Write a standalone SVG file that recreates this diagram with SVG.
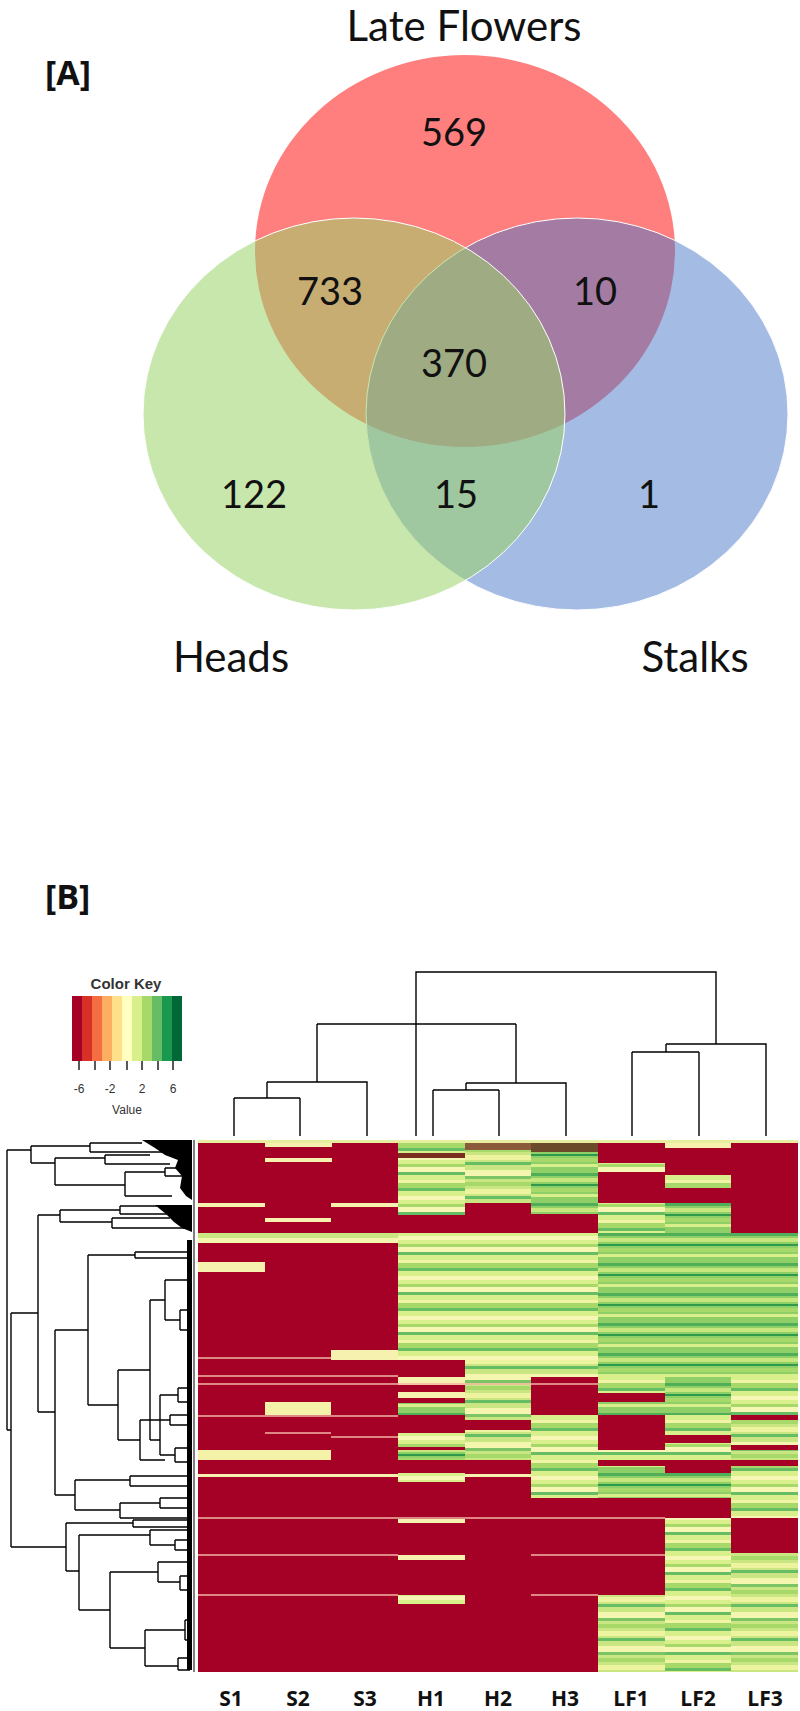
<svg xmlns="http://www.w3.org/2000/svg" width="800" height="1711" viewBox="0 0 800 1711">
<style>
.v{font-family:Lato,"Open Sans",sans-serif;fill:#111}
.num{font-size:38px;text-anchor:middle}
.lab{font-size:42px;text-anchor:middle}
.pl{font-family:"Open Sans",sans-serif;font-weight:bold;font-size:34px;fill:#111}
.col{font-family:"Open Sans",sans-serif;font-weight:bold;font-size:21px;text-anchor:middle;fill:#111}
.k{font-family:"Liberation Sans",Arial,sans-serif;fill:#333;text-anchor:middle}
.t{fill:none;stroke:#000;stroke-width:1.4}
.pk{stroke:#f2b4a4;stroke-width:1.3}
</style>
<defs>
<pattern id="gy" patternUnits="userSpaceOnUse" width="800" height="40">
<rect width="800" height="40" fill="#d9ef8b"/>
<rect y="4" width="800" height="3" fill="#a6d96a"/>
<rect y="7" width="800" height="5" fill="#f7f7b5"/>
<rect y="12" width="800" height="3" fill="#66bd63"/>
<rect y="20" width="800" height="3" fill="#f1f4a6"/>
<rect y="23" width="800" height="5" fill="#a6d96a"/>
<rect y="28" width="800" height="3" fill="#66bd63"/>
<rect y="36" width="800" height="4" fill="#f7f7b5"/>
</pattern>
<pattern id="gy2" patternUnits="userSpaceOnUse" width="800" height="34" patternTransform="translate(0,11)">
<rect width="800" height="34" fill="#c9e682"/>
<rect y="3" width="800" height="6" fill="#f4f6b0"/>
<rect y="9" width="800" height="3" fill="#7cc466"/>
<rect y="15" width="800" height="4" fill="#a6d96a"/>
<rect y="22" width="800" height="5" fill="#eef3a0"/>
<rect y="29" width="800" height="3" fill="#66bd63"/>
</pattern>
<pattern id="gg" patternUnits="userSpaceOnUse" width="800" height="30">
<rect width="800" height="30" fill="#8fcf68"/>
<rect y="3" width="800" height="3" fill="#4fae57"/>
<rect y="8" width="800" height="4" fill="#c8e67e"/>
<rect y="14" width="800" height="2" fill="#2f9a4c"/>
<rect y="18" width="800" height="4" fill="#a6d96a"/>
<rect y="24" width="800" height="3" fill="#d9ef8b"/>
</pattern>
</defs>
<rect width="800" height="1711" fill="#fff"/>

<g id="venn">
<ellipse cx="465" cy="251" rx="210" ry="196" fill="#ff7f7f"/>
<ellipse cx="577" cy="414" rx="211" ry="196" fill="#4a78c8" fill-opacity="0.5" stroke="#fff" stroke-width="1"/>
<ellipse cx="354" cy="414" rx="211" ry="196" fill="#9bd36a" fill-opacity="0.55" stroke="#fff" stroke-width="1"/>
<text class="v lab" x="464" y="41">Late Flowers</text>
<text class="pl" x="45" y="85">[A]</text>
<text class="v num" x="454" y="146">569</text>
<text class="v num" x="330" y="305">733</text>
<text class="v num" x="595" y="305">10</text>
<text class="v num" x="454" y="377">370</text>
<text class="v num" x="254" y="508">122</text>
<text class="v num" x="456" y="508">15</text>
<text class="v num" x="649" y="508">1</text>
<text class="v lab" x="231" y="672">Heads</text>
<text class="v lab" x="695" y="672">Stalks</text>
</g>

<text class="pl" x="45" y="909">[B]</text>

<g id="colorkey">
<text class="k" x="126" y="989" font-size="15" font-weight="bold" fill="#222">Color Key</text>
<rect x="72" y="996" width="10" height="65" fill="#a50026"/>
<rect x="82" y="996" width="10" height="65" fill="#d73027"/>
<rect x="92" y="996" width="10" height="65" fill="#f46d43"/>
<rect x="102" y="996" width="10" height="65" fill="#fdae61"/>
<rect x="112" y="996" width="10" height="65" fill="#fee08b"/>
<rect x="122" y="996" width="10" height="65" fill="#ffffbf"/>
<rect x="132" y="996" width="10" height="65" fill="#d9ef8b"/>
<rect x="142" y="996" width="10" height="65" fill="#a6d96a"/>
<rect x="152" y="996" width="10" height="65" fill="#66bd63"/>
<rect x="162" y="996" width="10" height="65" fill="#1a9850"/>
<rect x="172" y="996" width="10" height="65" fill="#006837"/>
<path d="M79 1061v9M95 1061v9M110 1061v9M127 1061v9M142 1061v9M158 1061v9M173 1061v9" stroke="#222" stroke-width="1.5"/>
<text class="k" x="79" y="1093" font-size="12">-6</text>
<text class="k" x="110" y="1093" font-size="12">-2</text>
<text class="k" x="142" y="1093" font-size="12">2</text>
<text class="k" x="173" y="1093" font-size="12">6</text>
<text class="k" x="127" y="1114" font-size="12">Value</text>
</g>

<g id="coldendro" class="t">
<path d="M416 1136V972H716V1044"/>
<path d="M317 1024H516M317 1024V1082M516 1024V1083"/>
<path d="M267 1082H367V1136M267 1082V1098M234 1098H300M234 1098V1136M300 1098V1136"/>
<path d="M466 1083H566V1136M466 1083V1090M433 1090H499M433 1090V1136M499 1090V1136"/>
<path d="M666 1044H766V1136M666 1044V1052M632 1052H699M632 1052V1136M699 1052V1136"/>
</g>

<g id="heatmap">
<rect x="198" y="1140" width="600" height="532" fill="#a50026"/>
<rect x="198" y="1140" width="600" height="3" fill="#e8eea0"/>
<rect x="265" y="1143" width="67" height="4" fill="#f7f1b0"/>
<rect x="265" y="1158" width="67" height="4" fill="#f7f1b0"/>
<rect x="398" y="1143" width="67" height="60" fill="url(#gy)"/>
<rect x="398" y="1153" width="67" height="5" fill="#7a2e1e"/>
<rect x="465" y="1143" width="66" height="7" fill="#8b5a3a"/>
<rect x="465" y="1150" width="66" height="53" fill="url(#gy2)"/>
<rect x="531" y="1143" width="67" height="9" fill="#6b4a2a"/>
<rect x="531" y="1152" width="67" height="51" fill="url(#gg)"/>
<rect x="665" y="1143" width="66" height="5" fill="#f7f1b0"/>
<rect x="665" y="1175" width="66" height="13" fill="url(#gy)"/>
<rect x="598" y="1163" width="67" height="9" fill="url(#gy)"/>
<rect x="198" y="1203" width="67" height="4" fill="#f7f1b0"/>
<rect x="331" y="1203" width="67" height="4" fill="#f7f1b0"/>
<rect x="398" y="1203" width="67" height="12" fill="url(#gy)"/>
<rect x="531" y="1203" width="67" height="11" fill="url(#gg)"/>
<rect x="598" y="1203" width="67" height="30" fill="url(#gy)"/>
<rect x="665" y="1203" width="66" height="30" fill="url(#gg)"/>
<rect x="265" y="1218" width="66" height="4" fill="#f7f1b0"/>
<rect x="198" y="1233" width="200" height="10" fill="url(#gy2)"/>
<rect x="398" y="1233" width="200" height="127" fill="url(#gy)"/>
<rect x="598" y="1233" width="200" height="127" fill="url(#gg)"/>
<rect x="198" y="1262" width="67" height="10" fill="#f7f1b0"/>
<rect x="331" y="1350" width="67" height="10" fill="#f7f1b0"/>
<rect x="465" y="1360" width="133" height="17" fill="url(#gy2)"/>
<rect x="598" y="1360" width="200" height="17" fill="url(#gg)"/>
<rect x="398" y="1377" width="67" height="8" fill="#f7f1b0"/>
<rect x="398" y="1392" width="67" height="6" fill="#f7f1b0"/>
<rect x="398" y="1403" width="67" height="12" fill="url(#gg)"/>
<rect x="465" y="1377" width="66" height="38" fill="url(#gy2)"/>
<rect x="598" y="1377" width="67" height="16" fill="url(#gy)"/>
<rect x="598" y="1402" width="67" height="13" fill="url(#gg)"/>
<rect x="665" y="1377" width="66" height="38" fill="url(#gg)"/>
<rect x="731" y="1377" width="67" height="38" fill="url(#gy)"/>
<rect x="265" y="1402" width="66" height="13" fill="#f4f2a8"/>
<rect x="398" y="1433" width="67" height="14" fill="url(#gy)"/>
<rect x="465" y="1415" width="66" height="45" fill="url(#gy2)"/>
<rect x="465" y="1420" width="66" height="10" fill="#a50026"/>
<rect x="531" y="1415" width="67" height="45" fill="url(#gy)"/>
<rect x="665" y="1415" width="66" height="45" fill="url(#gy)"/>
<rect x="665" y="1435" width="66" height="8" fill="#a50026"/>
<rect x="731" y="1420" width="67" height="40" fill="url(#gy2)"/>
<rect x="731" y="1445" width="67" height="5" fill="#a50026"/>
<rect x="198" y="1450" width="133" height="10" fill="#f4f2a8"/>
<rect x="398" y="1450" width="67" height="10" fill="url(#gg)"/>
<rect x="598" y="1450" width="67" height="10" fill="url(#gy)"/>
<rect x="531" y="1460" width="67" height="38" fill="url(#gy)"/>
<rect x="598" y="1466" width="67" height="32" fill="url(#gg)"/>
<rect x="731" y="1466" width="67" height="52" fill="url(#gy)"/>
<rect x="665" y="1473" width="66" height="25" fill="url(#gg)"/>
<rect x="198" y="1474" width="200" height="3" fill="#f7f1b0"/>
<rect x="398" y="1473" width="67" height="9" fill="url(#gy)"/>
<rect x="465" y="1474" width="66" height="3" fill="#f7f1b0"/>
<rect x="665" y="1518" width="66" height="154" fill="url(#gy)"/>
<rect x="731" y="1553" width="67" height="119" fill="url(#gy2)"/>
<rect x="598" y="1595" width="67" height="77" fill="url(#gy2)"/>
<rect x="398" y="1519" width="67" height="4" fill="#f7f1b0"/>
<rect x="398" y="1555" width="67" height="5" fill="#f7f1b0"/>
<rect x="398" y="1595" width="67" height="9" fill="url(#gy)"/>
<path class="pk" d="M198 1358H331M198 1376H398M198 1384H598M198 1416H398M265 1433H331M331 1437H398M198 1518H665M198 1555H398M531 1555H665M198 1595H398M531 1595H598"/>
</g>

<g id="rowdendro" class="t">
<path d="M7 1150V1430M7 1150H31M7 1430H11"/>
<path d="M31 1146V1163M31 1146H90M31 1163H55M90 1143V1152M90 1143H142M90 1152H165M55 1158V1185M55 1158H105M55 1185H125M105 1155V1164M105 1155H150M105 1164H170M125 1172V1196M125 1172H165M125 1196H172M165 1168V1176M165 1168H190M165 1176H190"/>
<path d="M11 1313V1547M11 1313H38M11 1547H66"/>
<path d="M38 1215V1412M38 1215H60M38 1412H55M60 1210V1222M60 1210H120M60 1222H112M120 1206V1214M120 1206H190M120 1214H175M112 1218V1228M112 1218H170M112 1228H190"/>
<path d="M55 1330V1495M55 1330H88M55 1495H75"/>
<path d="M88 1255V1405M88 1255H135M135 1252V1258M135 1252H190M135 1258H190M88 1405H118"/>
<path d="M118 1370V1440M118 1370H150M118 1440H140M150 1300V1440M150 1300H165M165 1280V1320M165 1280H190M165 1320H180M180 1310V1330M180 1310H190M180 1330H190"/>
<path d="M150 1440H160M160 1395V1455M160 1395H178M160 1455H175M178 1388V1402M178 1388H190M178 1402H190M175 1448V1462M175 1448H190M175 1462H190"/>
<path d="M140 1420V1460M140 1420H170M140 1460H165M170 1415V1425M170 1415H190M170 1425H190"/>
<path d="M75 1480V1510M75 1480H130M75 1510H120M130 1476V1486M130 1476H190M130 1486H190M120 1503V1518M120 1503H160M120 1518H190M160 1498V1508M160 1498H190M160 1508H190"/>
<path d="M66 1523V1571M66 1523H133M133 1520V1527M133 1520H190M133 1527H190M66 1571H79"/>
<path d="M79 1535V1610M79 1535H150M150 1530V1545M150 1530H190M150 1545H175M175 1540V1550M175 1540H190M175 1550H190"/>
<path d="M79 1610H110M110 1572V1648M110 1572H158M158 1562V1582M158 1562H190M158 1582H180M180 1576V1590M180 1576H190M180 1590H190"/>
<path d="M110 1648H145M145 1630V1666M145 1630H185M145 1666H178M185 1620V1640M185 1620H190M185 1640H190M178 1658V1670M178 1658H190M178 1670H190"/>
</g>
<g id="tipmass" fill="#000">
<polygon points="142,1140 192,1140 192,1200 186,1196 180,1188 182,1176 175,1168 178,1160 165,1155 155,1148"/>
<polygon points="155,1205 192,1205 192,1232 182,1228 174,1222 166,1214"/>
<rect x="187" y="1240" width="5" height="430"/>
</g>
<path d="M194 1140V1672" stroke="#000" stroke-width="1"/>

<g id="collabels">
<text class="col" x="231" y="1706">S1</text>
<text class="col" x="298" y="1706">S2</text>
<text class="col" x="365" y="1706">S3</text>
<text class="col" x="431" y="1706">H1</text>
<text class="col" x="498" y="1706">H2</text>
<text class="col" x="565" y="1706">H3</text>
<text class="col" x="631" y="1706">LF1</text>
<text class="col" x="698" y="1706">LF2</text>
<text class="col" x="765" y="1706">LF3</text>
</g>
</svg>
